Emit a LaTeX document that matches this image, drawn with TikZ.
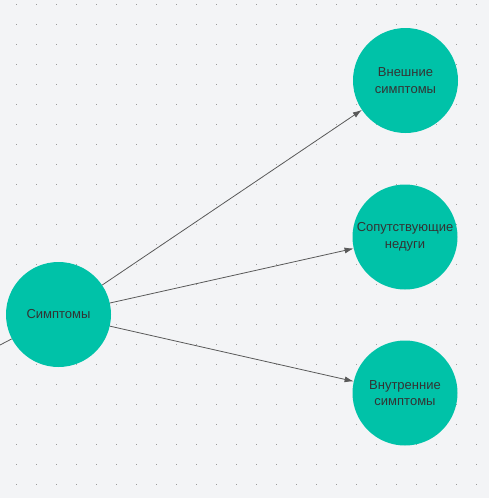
\documentclass[tikz,border=0pt]{standalone}
\usepackage{fontspec}
\setmainfont{Liberation Sans}
\usetikzlibrary{positioning,arrows.meta,calc}
\definecolor{sybg}{HTML}{F3F4F6}
\definecolor{syteal}{HTML}{00C2A8}
\definecolor{syline}{HTML}{595959}
\definecolor{sytext}{HTML}{333333}
\definecolor{sydot}{HTML}{9A9A9A}

\begin{document}
\begin{tikzpicture}[x=1pt, y=-1pt,
    topic/.style={circle, fill=syteal, minimum size=105pt, inner sep=0pt, align=center,
      text=sytext, font=\fontsize{13}{16.5}\selectfont},
    link/.style={syline, line width=0.8pt, -{Latex[length=9pt,width=6pt]}}]
        \fill[sybg] (0,0) rectangle (489,498);
        \useasboundingbox (0,0) rectangle (489,498);
        % dot grid
        \foreach \x in {16,36,...,476}
          \foreach \y in {4,24,...,484}
            \fill[sydot] (\x-0.45,\y-0.45) rectangle (\x+0.45,\y+0.45);
        \node[topic] (sym) at (58.5,314.5) {Симптомы};
        \node[topic] (ext) at (405.5,80.5) {Внешние\\симптомы};
        \node[topic] (com) at (405,237) {Сопутствующие\\недуги};
        \node[topic] (int) at (405,393) {Внутренние\\симптомы};
        \coordinate (src) at (0,345);
        \draw[syline, line width=0.8pt] (src) -- (sym);
        \draw[link] (sym) -- (ext);
        \draw[link] (sym) -- (com);
        \draw[link] (sym) -- (int);
      \end{tikzpicture}
\end{document}
